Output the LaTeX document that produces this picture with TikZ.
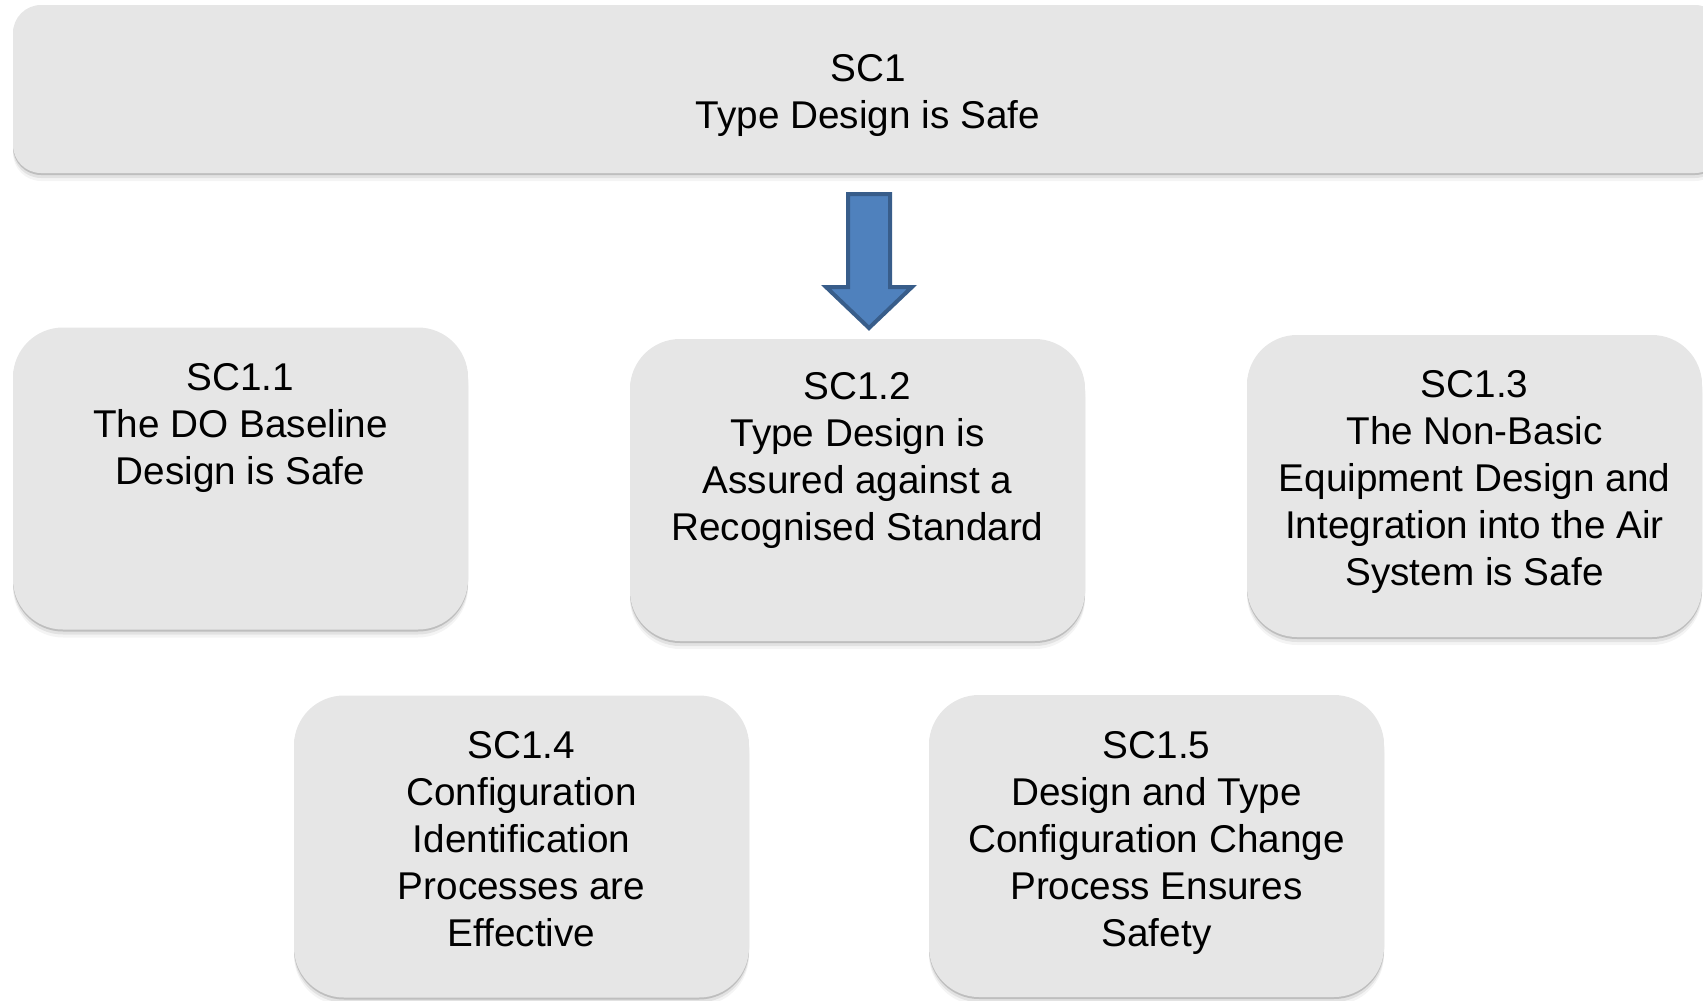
\documentclass[tikz,border=0pt]{standalone}
\usepackage{fontspec}
\setmainfont{Liberation Sans}
\usetikzlibrary{shadows}
\definecolor{boxfill}{RGB}{230,230,230}
\definecolor{arrowfill}{HTML}{4F81BD}
\definecolor{arrowline}{HTML}{385D8A}
\tikzset{
  softshadow/.style={
    drop shadow={shadow xshift=0pt,shadow yshift=-1pt,opacity=0.24,fill=black!70},
    drop shadow={shadow xshift=0pt,shadow yshift=-2.5pt,opacity=0.11,fill=black!70},
    drop shadow={shadow xshift=0pt,shadow yshift=-4pt,opacity=0.06,fill=black!70}},
  claimbox/.style={shape=rectangle,fill=boxfill,draw=none,inner sep=0pt,
    minimum width=227.5pt,minimum height=151pt,rounded corners=25pt,softshadow},
  topbox/.style={shape=rectangle,fill=boxfill,draw=none,inner sep=0pt,
    minimum width=855pt,minimum height=84pt,rounded corners=14pt,softshadow},
  claimtext/.style={anchor=north,inner sep=0pt,align=center,text=black,
    font=\fontsize{19.35pt}{23.5pt}\selectfont},
  blockarrow/.style={fill=arrowfill,draw=arrowline,line width=2pt,line join=miter}
}
\begin{document}
\begin{tikzpicture}[x=0.5pt,y=-0.5pt]
\useasboundingbox (0,0) rectangle (1703,1001);
% top claim
\node[topbox] (sc1) at (868,89) {};
\node[claimtext] (sc1t) at ([yshift=-24.5pt]sc1.north) {SC1\\Type Design is Safe};
% sub claims
\node[claimbox] (sc11) at (240.5,478.5) {};
\node[claimbox] (sc12) at (857.5,490) {};
\node[claimbox] (sc13) at (1474.5,486) {};
\node[claimbox] (sc14) at (521.5,846.5) {};
\node[claimbox] (sc15) at (1156.5,846) {};
\node[claimtext] (sc11t) at ([yshift=-17.8pt]sc11.north) {SC1.1\\The DO Baseline\\Design is Safe};
\node[claimtext] (sc12t) at ([yshift=-16.8pt]sc12.north) {SC1.2\\Type Design is\\Assured against a\\Recognised Standard};
\node[claimtext] (sc13t) at ([yshift=-17.8pt]sc13.north) {SC1.3\\The Non-Basic\\Equipment Design and\\Integration into the Air\\System is Safe};
\node[claimtext] (sc14t) at ([yshift=-18pt]sc14.north) {SC1.4\\Configuration\\Identification\\Processes are\\Effective};
\node[claimtext] (sc15t) at ([yshift=-18pt]sc15.north) {SC1.5\\Design and Type\\Configuration Change\\Process Ensures\\Safety};
% block arrow
\draw[blockarrow] (848,194) -- (890,194) -- (890,287) -- (912,287) -- (869,328)
  -- (826,287) -- (848,287) -- cycle;
\end{tikzpicture}
\end{document}
